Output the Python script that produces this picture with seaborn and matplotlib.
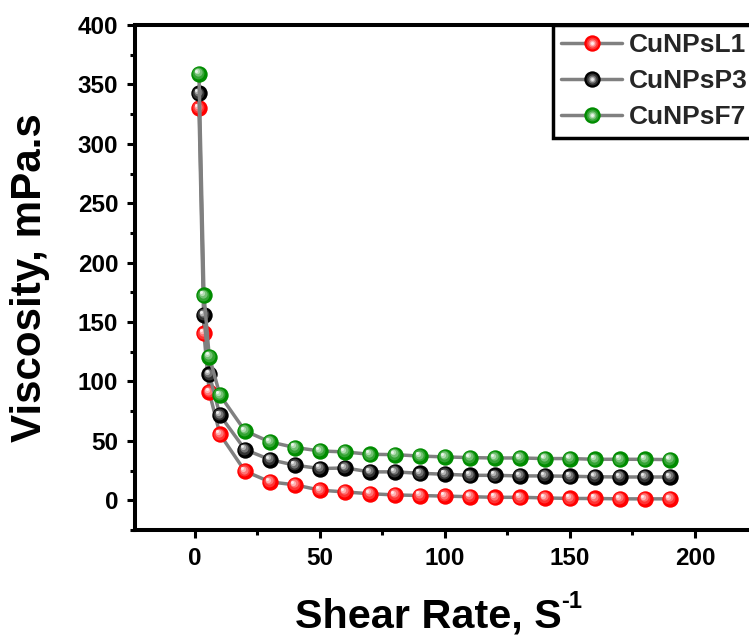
import numpy as np
import pandas as pd
import seaborn as sns
import matplotlib
matplotlib.use("Agg")
import matplotlib.pyplot as plt
from matplotlib.transforms import offset_copy
from matplotlib.lines import Line2D
from matplotlib.legend_handler import HandlerTuple
from matplotlib.ticker import MultipleLocator
import matplotlib.colors as mcolors

# ---- data ----
shear_rate = [1.6, 3.6, 5.7, 10, 20, 30, 40, 50, 60, 70, 80, 90, 100,
              110, 120, 130, 140, 150, 160, 170, 180, 190]
visc_L1 = [330, 140.5, 91, 55.5, 24.5, 15.5, 13, 8.5, 7, 5.5, 4.5, 4, 3.5,
           3, 2.5, 2.5, 2, 1.5, 1.5, 1.2, 1.2, 1.2]
visc_P3 = [342.5, 156, 106, 71.6, 42.7, 34.2, 29.5, 26.7, 27.2, 23.9, 23.9, 22.7, 21.9,
           21, 21, 20.5, 20.5, 20.2, 19.8, 19.6, 19.6, 19.6]
visc_F7 = [359, 172.5, 121, 88.5, 58.4, 49.1, 44.4, 41.5, 40.7, 38.7, 38.4, 37.2, 36.5,
           35.9, 35.6, 35.6, 35.1, 35.1, 34.5, 34.5, 34.5, 34.2]
series_names = ["CuNPsL1", "CuNPsP3", "CuNPsF7"]
series_colors = ["#ff0000", "#000000", "#008c00"]
x_ticks = [0, 50, 100, 150, 200]
y_ticks = [0, 50, 100, 150, 200, 250, 300, 350, 400]

frames = []
for name, vals in zip(series_names, [visc_L1, visc_P3, visc_F7]):
    frames.append(pd.DataFrame({"Shear Rate": shear_rate, "Viscosity": vals, "Sample": name}))
df = pd.concat(frames, ignore_index=True)

sns.set_theme(style="ticks")
plt.rcParams["font.family"] = ["Liberation Sans", "DejaVu Sans"]
plt.rcParams["font.weight"] = "bold"

W, H = 749, 636
fig = plt.figure(figsize=(W / 100, H / 100), dpi=100)
ax = fig.add_axes([0.1802, 0.1667, 0.8478, 0.794])

line_gray = "#808080"
ms = 11.8


def lighten(c, f):
    r, g, b = mcolors.to_rgb(c)
    return (r + (1 - r) * f, g + (1 - g) * f, b + (1 - b) * f)


layers = [(0.72, 0.2), (0.5, 0.45), (0.32, 0.7), (0.18, 0.92)]
legend_handles = []
for i, (name, col) in enumerate(zip(series_names, series_colors)):
    sub = df[df["Sample"] == name]
    z = 3 + i * 10
    sns.lineplot(data=sub, x="Shear Rate", y="Viscosity", ax=ax, color=line_gray,
                 linewidth=2.5, zorder=z, legend=False, sort=False)
    sns.scatterplot(data=sub, x="Shear Rate", y="Viscosity", ax=ax, color=col,
                    s=ms ** 2, linewidth=0, zorder=z + 1, legend=False)
    for k, (frac, lf) in enumerate(layers):
        tr = offset_copy(ax.transData, fig=fig, x=-0.9 * (k + 1) / 2, y=1.1 * (k + 1) / 2, units="points")
        ax.scatter(sub["Shear Rate"], sub["Viscosity"], s=(ms * frac) ** 2,
                   color=lighten(col, lf), linewidths=0, zorder=z + 2 + k, transform=tr)
    base = Line2D([], [], color=line_gray, linewidth=2.5, marker="o", markersize=ms,
                  markerfacecolor=col, markeredgewidth=0)
    hl = [Line2D([], [], linestyle="none", marker="o", markersize=ms * frac,
                 markerfacecolor=lighten(col, lf), markeredgewidth=0) for frac, lf in layers]
    legend_handles.append(tuple([base] + hl))

ax.set_xlim(-24, 230)
ax.set_ylim(-25, 400)
ax.set_xticks(x_ticks)
ax.set_yticks(y_ticks)
ax.xaxis.set_minor_locator(MultipleLocator(25))
ax.yaxis.set_minor_locator(MultipleLocator(25))
ax.tick_params(axis="both", which="major", direction="out", length=6, width=2.2,
               labelsize=17.5, pad=6, color="black", labelcolor="black")
ax.tick_params(axis="both", which="minor", direction="out", length=3.5, width=2.2, color="black")
for lab in ax.get_xticklabels() + ax.get_yticklabels():
    lab.set_fontweight("bold")

for sp in ax.spines.values():
    sp.set_linewidth(2.9)
    sp.set_color("black")
    sp.set_visible(True)

ax.set_xlabel("")
ax.set_ylabel("")
xl = fig.text(295 / W, (H - 627) / H, "Shear Rate, S", fontsize=29.8, fontweight="bold",
              ha="left", va="baseline", color="black")
fig.canvas.draw()
bb = xl.get_window_extent()
fig.text((bb.x1 - 1) / W, (H - 608) / H, "-1", fontsize=17, fontweight="bold",
         ha="left", va="baseline", color="black")
fig.text(30 / W, (H - 278) / H, "Viscosity, mPa.s", fontsize=30.3, fontweight="bold",
         rotation=90, ha="center", va="center", color="black")

leg = ax.legend(legend_handles, series_names, handler_map={tuple: HandlerTuple(ndivide=1, pad=0)},
                loc="upper left", bbox_to_anchor=(553 / W, 1 - 25 / H),
                bbox_transform=fig.transFigure, borderaxespad=0, frameon=True,
                fancybox=False, framealpha=1, edgecolor="black", handlelength=2.3,
                handletextpad=0.25, labelspacing=0.45, borderpad=0.32,
                prop={"family": "Liberation Sans", "weight": "bold", "size": 19})
leg.get_frame().set_linewidth(2.5)
leg.set_zorder(100)

fig.savefig("out.png", dpi=100)
